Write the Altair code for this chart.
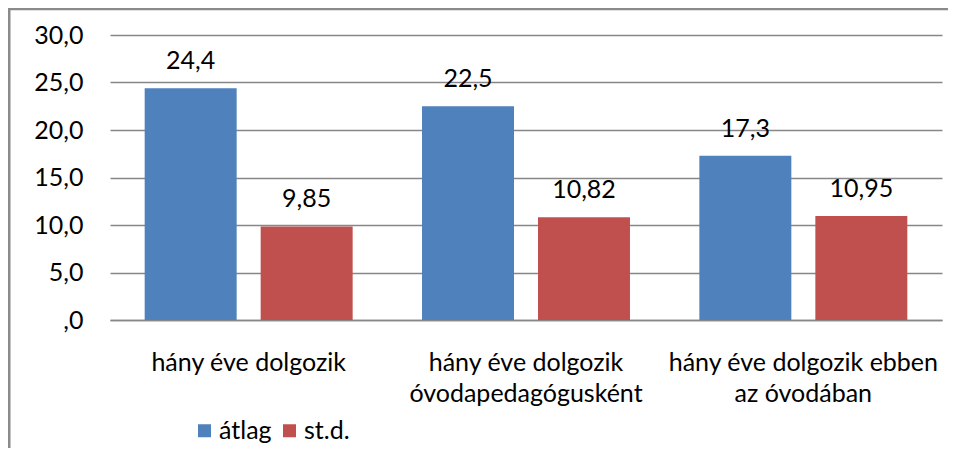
import altair as alt
import pandas as pd

categories = ["hány éve dolgozik", "hány éve dolgozik|óvodapedagógusként", "hány éve dolgozik ebben|az óvodában"]
series = ["átlag", "st.d."]
atlag = [24.4, 22.5, 17.3]
std = [9.85, 10.82, 10.95]
labels_atlag = ["24,4", "22,5", "17,3"]
labels_std = ["9,85", "10,82", "10,95"]
colors = ["#4F81BD", "#C0504D"]
y_ticks = [0, 5, 10, 15, 20, 25, 30]

rows = []
for i, c in enumerate(categories):
    rows.append({"cat": c, "series": series[0], "value": atlag[i], "label": labels_atlag[i]})
    rows.append({"cat": c, "series": series[1], "value": std[i], "label": labels_std[i]})
df = pd.DataFrame(rows)

FONT = "Lato"
FS = 25
GRID = "#878787"
W, H = 832, 285
PL, PT, PR, PB = 102, 27, 6, 128

x_enc = alt.X("cat:N", sort=categories,
              scale=alt.Scale(paddingInner=0, paddingOuter=0),
              axis=alt.Axis(title=None, labelAngle=0, labelExpr="split(datum.value, '|')",
                            ticks=False, domain=True, domainColor=GRID, domainWidth=1.5,
                            labelFont=FONT, labelFontSize=FS, labelColor="black",
                            labelPadding=30, labelLineHeight=31, labelLimit=0))
xo_enc = alt.XOffset("series:N", sort=series,
                     scale=alt.Scale(paddingInner=0.207, paddingOuter=0.299))
y_enc = alt.Y("value:Q", scale=alt.Scale(domain=[0, 30], nice=False),
              axis=alt.Axis(title=None, values=y_ticks, ticks=False, domain=False,
                            labelExpr="datum.value == 0 ? ',0' : replace(format(datum.value, '.1f'), '.', ',')",
                            grid=True, gridColor=GRID, gridWidth=1.5,
                            labelFont=FONT, labelFontSize=FS, labelColor="black",
                            labelPadding=27))
color_enc = alt.Color("series:N", sort=series,
                      scale=alt.Scale(domain=series, range=colors),
                      legend=alt.Legend(orient="none", legendX=82, legendY=383,
                                        direction="horizontal", title=None,
                                        symbolType="square", symbolSize=169,
                                        symbolStrokeWidth=0, labelFont=FONT,
                                        labelFontSize=FS, labelColor="black",
                                        columnPadding=5, labelOffset=2, padding=0))

base = alt.Chart(df).encode(x=x_enc, xOffset=xo_enc, y=y_enc)
bars = base.mark_bar().encode(color=color_enc)
texts = base.mark_text(dy=-19, baseline="alphabetic", font=FONT, fontSize=FS,
                       color="black").encode(text="label:N")

frame_df = pd.DataFrame({"a": [0]})
top_border = alt.Chart(frame_df).mark_rule(color="#8a8a8a", strokeWidth=2.5).encode(
    x=alt.value(-PL), x2=alt.value(W + PR), y=alt.value(-PT + 1))
left_border = alt.Chart(frame_df).mark_rule(color="#8a8a8a", strokeWidth=3).encode(
    x=alt.value(-PL + 1), y=alt.value(-PT), y2=alt.value(H + PB))

chart = alt.layer(bars, texts, top_border, left_border).properties(
    width=W, height=H,
    autosize=alt.AutoSizeParams(type="none"),
    padding={"left": PL, "top": PT, "right": PR, "bottom": PB},
).configure_view(stroke=None)

chart.save("out.html", embed_options={"renderer": "svg", "actions": False})
